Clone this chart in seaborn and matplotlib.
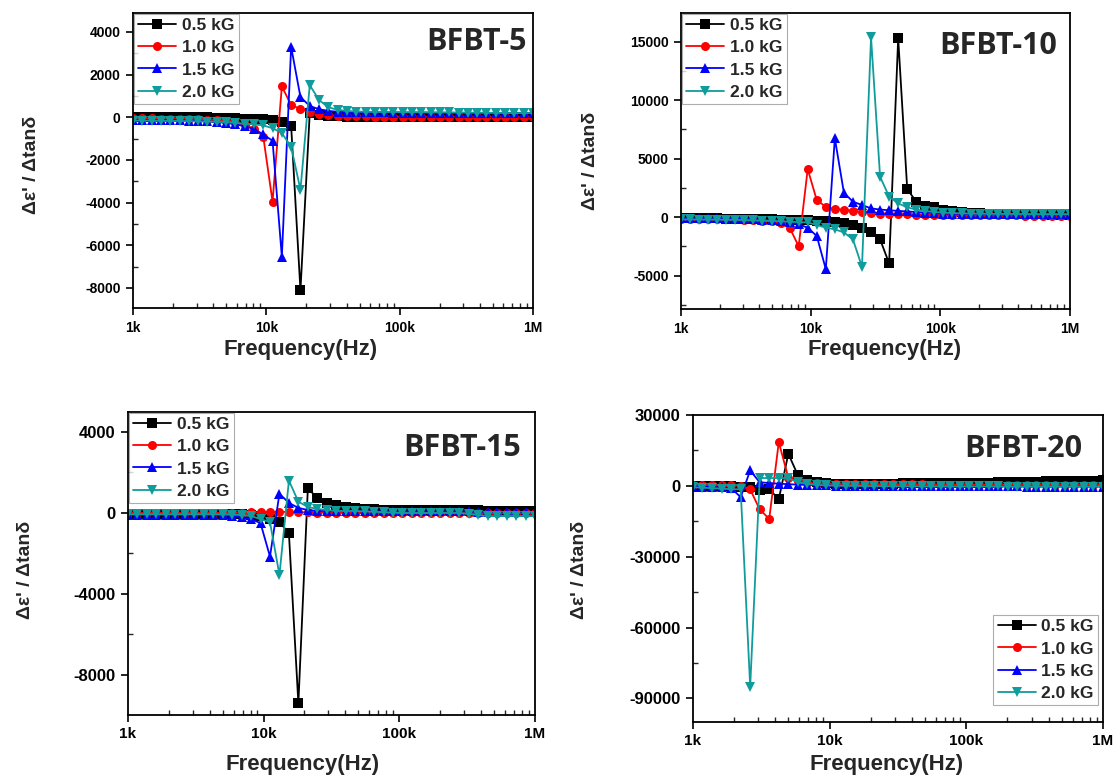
import matplotlib
matplotlib.use('Agg')
import pandas as pd
import matplotlib.pyplot as plt
import seaborn as sns
from matplotlib.lines import Line2D
from matplotlib.ticker import FixedLocator, LogLocator, AutoMinorLocator, NullFormatter

sns.set_style('white')
plt.rcParams['font.family'] = ['Liberation Sans', 'DejaVu Sans']
plt.rcParams['font.weight'] = 'bold'
plt.rcParams['axes.unicode_minus'] = False

# frequency sweep (Hz), 44 points 1k..1M
freq = [1000, 1174, 1379, 1619, 1901, 2233, 2622, 3079, 3615, 4245,
        4985, 5854, 6874, 8072, 9479, 11131, 13071, 15349, 18024, 21165,
        24853, 29185, 34271, 40244, 47257, 55493, 65164, 76520, 89855, 105514,
        123901, 145494, 170850, 200625, 235587, 276642, 324852, 381465, 447944, 526009,
        617677, 725319, 851720, 1000000]

fields = ['0.5 kG', '1.0 kG', '1.5 kG', '2.0 kG']
colors = ['#000000', '#ff0000', '#0000ff', '#109c9c']
marks = ['s', 'o', '^', 'v']

# BFBT-5
b5_05 = [20, 20, 20, 15, 15, 10, 10, 5, 0, -10,
         -20, -40, -60, -80, -100, -130, -235, -400, -8115, 200,
         100, 60, 40, 30, 30, 30, 30, 30, 30, 30,
         25, 25, 25, 25, 25, 20, 20, 20, 20, 20,
         20, 20, 20, 20]
b5_10 = [-50, -50, -50, -60, -60, -70, -80, -90, -110, -140,
         -180, -250, -350, -530, -900, -3950, 1450, 575, 390, 250,
         150, 100, 60, 50, 40, 40, 30, 30, 30, 30,
         20, 20, 20, 20, 10, 10, 10, 10, 0, 0,
         0, 0, 0, 0]
b5_15 = [-120, -120, -120, -130, -130, -140, -150, -170, -190, -220,
         -260, -320, -420, -550, -800, -1100, -6540, 3300, 950, 530,
         380, 300, 260, 240, 230, 230, 230, 230, 220, 220,
         220, 220, 220, 210, 210, 210, 210, 200, 200, 200,
         200, 200, 190, 190]
b5_20 = [-150, -150, -160, -160, -170, -170, -180, -190, -200, -210,
         -230, -260, -300, -330, -380, -510, -740, -1380, -3400, 1510,
         810, 470, 350, 300, 270, 260, 250, 250, 250, 240,
         240, 240, 230, 230, 230, 220, 220, 220, 210, 210,
         200, 200, 200, 200]

# BFBT-10
b10_05 = [-100, -100, -110, -110, -120, -130, -140, -150, -160, -180,
          -200, -220, -240, -260, -290, -320, -360, -400, -540, -710,
          -970, -1310, -1910, -3960, 15280, 2390, 1310, 970, 830, 640,
          500, 420, 360, 320, 300, 280, 260, 250, 240, 230,
          220, 210, 200, 200]
b10_10 = [-150, -150, -160, -160, -170, -180, -200, -220, -250, -300,
          -350, -500, -900, -2500, 4100, 1450, 880, 680, 630, 530,
          420, 350, 300, 270, 240, 220, 200, 190, 180, 170,
          160, 160, 150, 150, 150, 140, 140, 140, 130, 130,
          130, 120, 120, 120]
b10_15 = [-100, -100, -110, -110, -120, -130, -140, -160, -180, -220,
          -270, -350, -450, -620, -910, -1620, -4450, 6730, 2080, 1310,
          1030, 740, 640, 580, 530, 480, 430, 380, 340, 300,
          280, 280, 270, 270, 260, 260, 260, 250, 250, 250,
          250, 250, 250, 250]
b10_20 = [-200, -200, -210, -210, -220, -230, -240, -260, -280, -300,
          -330, -360, -400, -430, -460, -680, -910, -1050, -1310, -1910,
          -4250, 15360, 3450, 1740, 1170, 830, 640, 520, 440, 380,
          340, 320, 300, 290, 280, 270, 270, 260, 260, 250,
          250, 250, 250, 250]

# BFBT-15
b15_05 = [-50, -50, -50, -50, -50, -50, -50, -50, -50, -50,
          -60, -60, -70, -80, -150, -300, -450, -1000, -9400, 1220,
          740, 510, 400, 300, 250, 200, 180, 160, 150, 150,
          150, 150, 150, 150, 150, 150, 150, 150, 100, 100,
          100, 100, 100, 100]
b15_10 = [0, 0, 0, 0, 0, 0, 0, 0, 0, 0,
          10, 10, 20, 30, 40, 50, 60, 50, 40, 30,
          20, 10, 10, 0, 0, 0, 0, 0, 0, 0,
          0, 0, 0, 0, 0, 0, 0, 0, 0, 0,
          0, 0, 0, 0]
b15_15 = [-80, -80, -80, -80, -80, -80, -80, -80, -90, -100,
          -120, -150, -200, -300, -500, -2150, 950, 500, 250, 150,
          100, 100, 100, 100, 100, 80, 80, 80, 80, 80,
          80, 80, 80, 80, 80, 80, 80, 60, 60, 60,
          60, 60, 60, 60]
b15_20 = [-60, -60, -60, -60, -60, -60, -60, -60, -60, -60,
          -70, -80, -100, -150, -300, -450, -3060, 1600, 560, 300,
          200, 150, 100, 100, 100, 80, 60, 40, 20, 0,
          0, 0, 0, 0, 0, 0, -50, -100, -150, -150,
          -150, -150, -150, -150]

# BFBT-20
b20_05 = [0, 0, 0, -100, -200, -400, -600, -1800, -1400, -5700,
          13600, 4500, 2550, 1500, 1100, 900, 800, 800, 850, 900,
          900, 950, 1000, 1000, 1050, 1100, 1150, 1200, 1250, 1300,
          1350, 1400, 1450, 1500, 1600, 1700, 1800, 1900, 2000, 2000,
          2100, 2100, 2200, 2300]
b20_10 = [300, 300, 300, 200, 200, 0, -1500, -10000, -14000, 18500,
          3500, 2000, 1300, 1000, 900, 800, 800, 750, 700, 700,
          650, 650, 600, 600, 600, 550, 550, 550, 500, 500,
          500, 500, 500, 500, 500, 500, 500, 500, 500, 500,
          500, 500, 500, 500]
b20_15 = [-300, -400, -500, -700, -900, -4800, 6500, 1500, 1200, 900,
          700, 500, 400, 300, 200, 100, 0, 0, 0, -100,
          -100, -100, -100, -150, -150, -150, -200, -200, -200, -200,
          -250, -250, -250, -250, -250, -300, -300, -300, -300, -300,
          -300, -300, -300, -300]
b20_20 = [-600, -800, -1000, -1200, -1400, -1500, -85100, 3300, 3300, 3300,
          3200, 1500, 800, 400, 200, 100, 0, 0, -100, -100,
          -100, -150, -150, -150, -200, -200, -200, -200, -250, -250,
          -250, -250, -250, -300, -300, -300, -300, -300, -300, -300,
          -300, -300, -300, -300]

names = ['BFBT-5', 'BFBT-10', 'BFBT-15', 'BFBT-20']
series = [[b5_05, b5_10, b5_15, b5_20],
          [b10_05, b10_10, b10_15, b10_20],
          [b15_05, b15_10, b15_15, b15_20],
          [b20_05, b20_10, b20_15, b20_20]]
yticks = [[-8000, -6000, -4000, -2000, 0, 2000, 4000],
          [-5000, 0, 5000, 10000, 15000],
          [-8000, -4000, 0, 4000],
          [-90000, -60000, -30000, 0, 30000]]
ylims = [(-8940, 4890), (-7860, 17440), (-9975, 4990), (-100000, 30000)]

for s in series:
    for v in s:
        assert len(v) == len(freq)

fig = plt.figure(figsize=(11.15, 7.78), dpi=100)
rects = [[0.1193, 0.6041, 0.3587, 0.3792],
         [0.6108, 0.6028, 0.3489, 0.3805],
         [0.1148, 0.0810, 0.3650, 0.3895],
         [0.6215, 0.0720, 0.3677, 0.3946]]
title_pos = [(0.985, 0.90), (0.967, 0.89), (0.966, 0.88), (0.949, 0.89)]
ylab_pos = [(-0.255, 0.485), (-0.234, 0.50), (-0.253, 0.48), (-0.276, 0.495)]
xlab_pos = [(0.42, -0.142), (0.524, -0.138), (0.43, -0.165), (0.473, -0.14)]
tick_fs = [10, 10, 11, 11]
ytick_fs = [10, 10, 12, 12]

palette = dict(zip(fields, colors))
markers = dict(zip(fields, marks))

for i in range(4):
    ax = fig.add_axes(rects[i])
    rows = []
    for f, vals in zip(fields, series[i]):
        for x, y in zip(freq, vals):
            rows.append({'freq': x, 'val': y, 'field': f})
    df = pd.DataFrame(rows)
    sns.lineplot(data=df, x='freq', y='val', hue='field', style='field',
                 palette=palette, markers=markers, dashes=False, errorbar=None,
                 markersize=6.5, markeredgewidth=0, linewidth=1.3,
                 legend=False, ax=ax)
    ax.set_xscale('log')
    ax.set_xlim(1e3, 1e6)
    ax.set_ylim(*ylims[i])
    ax.xaxis.set_major_locator(FixedLocator([1e3, 1e4, 1e5, 1e6]))
    ax.set_xticklabels(['1k', '10k', '100k', '1M'])
    ax.xaxis.set_minor_locator(LogLocator(base=10, subs=range(2, 10)))
    ax.xaxis.set_minor_formatter(NullFormatter())
    ax.yaxis.set_major_locator(FixedLocator(yticks[i]))
    ax.set_yticklabels([str(t) for t in yticks[i]])
    ax.yaxis.set_minor_locator(AutoMinorLocator(2))
    ax.tick_params(which='both', bottom=True, left=True, top=False, right=False)
    ax.tick_params(which='major', direction='out', length=5, width=1.2,
                   colors='black', pad=4)
    ax.tick_params(which='minor', direction='in', length=3.5, width=1.0)
    ax.tick_params(axis='x', which='major', labelsize=tick_fs[i])
    ax.tick_params(axis='y', which='major', labelsize=ytick_fs[i])
    for lab in ax.get_xticklabels() + ax.get_yticklabels():
        lab.set_fontweight('bold')
    for sp in ax.spines.values():
        sp.set_linewidth(1.3)
        sp.set_color('black')
    ax.set_xlabel('Frequency(Hz)', fontsize=16, fontweight='bold')
    ax.xaxis.set_label_coords(*xlab_pos[i])
    ax.xaxis.label.set_va('center')
    ax.set_ylabel("Δε' / Δtanδ", fontsize=14, fontweight='bold')
    ax.yaxis.set_label_coords(*ylab_pos[i])
    ax.yaxis.label.set_va('center')
    ax.text(title_pos[i][0], title_pos[i][1], names[i], transform=ax.transAxes,
            ha='right', va='center', fontsize=22, fontweight='bold',
            family=['Open Sans', 'DejaVu Sans'])
    handles = [Line2D([], [], color=c, marker=m, markersize=6.5, markeredgewidth=0,
                      linewidth=1.3, label=f) for f, c, m in zip(fields, colors, marks)]
    leg_kw = dict(handles=handles, handlelength=2.2, handletextpad=0.3,
                  labelspacing=0.4, borderpad=0.25, fancybox=False,
                  prop={'size': 12.5, 'weight': 'bold'})
    if i < 3:
        leg = ax.legend(loc='upper left', borderaxespad=0.05, **leg_kw)
    else:
        leg = ax.legend(loc='lower right', bbox_to_anchor=(0.988, 0.055),
                        borderaxespad=0, **leg_kw)
    leg.get_frame().set_edgecolor('#999999')
    leg.get_frame().set_linewidth(0.8)

fig.savefig('out.png', dpi=100)
